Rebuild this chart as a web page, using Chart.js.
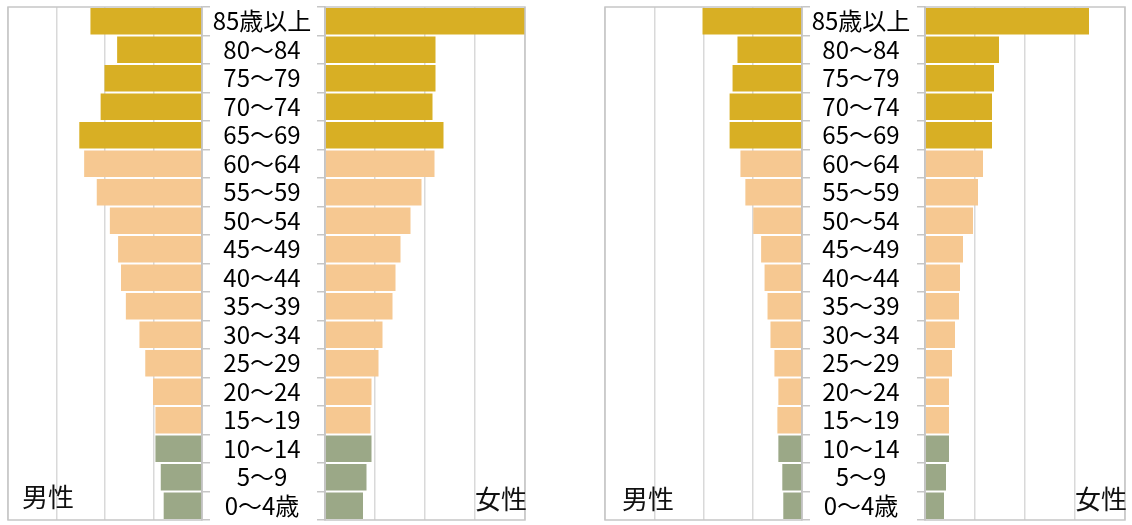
<!DOCTYPE html>
<html>
<head>
<meta charset="utf-8">
<script src="https://cdn.jsdelivr.net/npm/chart.js@4/dist/chart.umd.min.js"></script>
<style>
  body { margin: 0; background: #fff; width: 1132px; height: 525px; overflow: hidden; position: relative; }
  .box { position: absolute; top: 0; height: 525px; }
  .sex { position: absolute; font-family: "Noto Sans CJK JP", sans-serif; font-size: 26px; line-height: 26px; color: #111; }
</style>
</head>
<body>
<div class="box" style="left:0;width:210px"><canvas id="m1"></canvas></div>
<div class="box" style="left:210px;width:317px"><canvas id="f1"></canvas></div>
<div class="box" style="left:597px;width:213px"><canvas id="m2"></canvas></div>
<div class="box" style="left:810px;width:317px"><canvas id="f2"></canvas></div>
<div class="sex" style="left:22px;top:483px">男性</div>
<div class="sex" style="left:475px;top:485px">女性</div>
<div class="sex" style="left:622px;top:485px">男性</div>
<div class="sex" style="left:1075px;top:485px">女性</div>
<script>
// age groups, youngest first (drawn bottom-up)
var ages = ['0～4歳', '5～9', '10～14', '15～19', '20～24', '25～29', '30～34', '35～39', '40～44',
            '45～49', '50～54', '55～59', '60～64', '65～69', '70～74', '75～79', '80～84', '85歳以上'];

// left pyramid
var male1   = [0.79, 0.85, 0.96, 0.96, 1.01, 1.17, 1.29, 1.57, 1.67, 1.73, 1.90, 2.17, 2.43, 2.53, 2.09, 2.01, 1.75, 2.30];
var female1 = [0.76, 0.83, 0.93, 0.91, 0.93, 1.07, 1.15, 1.35, 1.41, 1.51, 1.71, 1.93, 2.19, 2.37, 2.15, 2.21, 2.21, 4.03];
// right pyramid
var male2   = [0.38, 0.40, 0.48, 0.50, 0.48, 0.56, 0.64, 0.70, 0.76, 0.83, 0.99, 1.15, 1.25, 1.47, 1.47, 1.41, 1.31, 2.02];
var female2 = [0.38, 0.42, 0.48, 0.48, 0.48, 0.54, 0.60, 0.68, 0.70, 0.76, 0.96, 1.06, 1.16, 1.34, 1.34, 1.38, 1.48, 3.28];

var xMax = 4;

var labelFont = '"Noto Sans CJK JP", sans-serif';
var labelSize = 24;

function barColor(i) {
    if (i < 3) return '#9BA887';    // 0-14
    if (i < 13) return '#F6C891';   // 15-64
    return '#D8AF24';               // 65+
}
var colors = ages.map(function (a, i) { return barColor(i); });

var frame = {
    id: 'frame',
    afterDraw: function (chart) {
        var a = chart.chartArea, c = chart.ctx;
        c.save();
        c.strokeStyle = '#c6c6c6';
        c.lineWidth = 1.5;
        c.strokeRect(a.left, a.top, a.right - a.left, a.bottom - a.top);
        c.restore();
    }
};

// measure widest label to centre the age labels between the panels
var mctx = document.createElement('canvas').getContext('2d');
mctx.font = labelSize + 'px ' + labelFont;
var widest = Math.max.apply(null, ages.map(function (t) { return mctx.measureText(t).width; }));

function makeChart(id, values, isMale, centreOffset) {
    var yAxis = {
        position: isMale ? 'right' : 'left',
        reverse: true,
        border: { display: true, color: '#bdbdbd', width: 1.5 },
        grid: { offset: true, drawOnChartArea: false, drawTicks: true, tickLength: 8, color: '#c6c6c6', lineWidth: 1.5 },
        ticks: isMale ? { display: false } : {
            display: true,
            autoSkip: false,
            crossAlign: 'center',
            padding: (115 - 8 - centreOffset) - widest / 2,
            color: '#000',
            font: { family: labelFont, size: labelSize }
        },
        afterFit: function (s) {
            s.width = isMale ? 8 : 115;
            s.paddingTop = 0;
            s.paddingBottom = 0;
        }
    };
    return new Chart(document.getElementById(id), {
        type: 'bar',
        data: {
            labels: ages,
            datasets: [{
                label: isMale ? '男性' : '女性',
                data: values,
                backgroundColor: colors,
                borderWidth: 0,
                barPercentage: 0.93,
                categoryPercentage: 1.0
            }]
        },
        options: {
            indexAxis: 'y',
            responsive: true,
            maintainAspectRatio: false,
            animation: false,
            layout: { padding: { left: isMale ? 8 : 0, right: isMale ? 0 : 2, top: 7, bottom: 5 } },
            scales: {
                x: {
                    min: 0,
                    max: xMax,
                    reverse: isMale,
                    border: { display: false },
                    grid: { drawTicks: false, color: '#d9d9d9', lineWidth: 1.5 },
                    ticks: { display: false, stepSize: 1 },
                    afterFit: function (s) { s.height = 0; }
                },
                y: yAxis
            },
            plugins: {
                legend: { display: false },
                tooltip: { enabled: false }
            }
        },
        plugins: [frame]
    });
}

makeChart('m1', male1, true, 0);
makeChart('f1', female1, false, 52);
makeChart('m2', male2, true, 0);
makeChart('f2', female2, false, 51);
</script>
</body>
</html>
